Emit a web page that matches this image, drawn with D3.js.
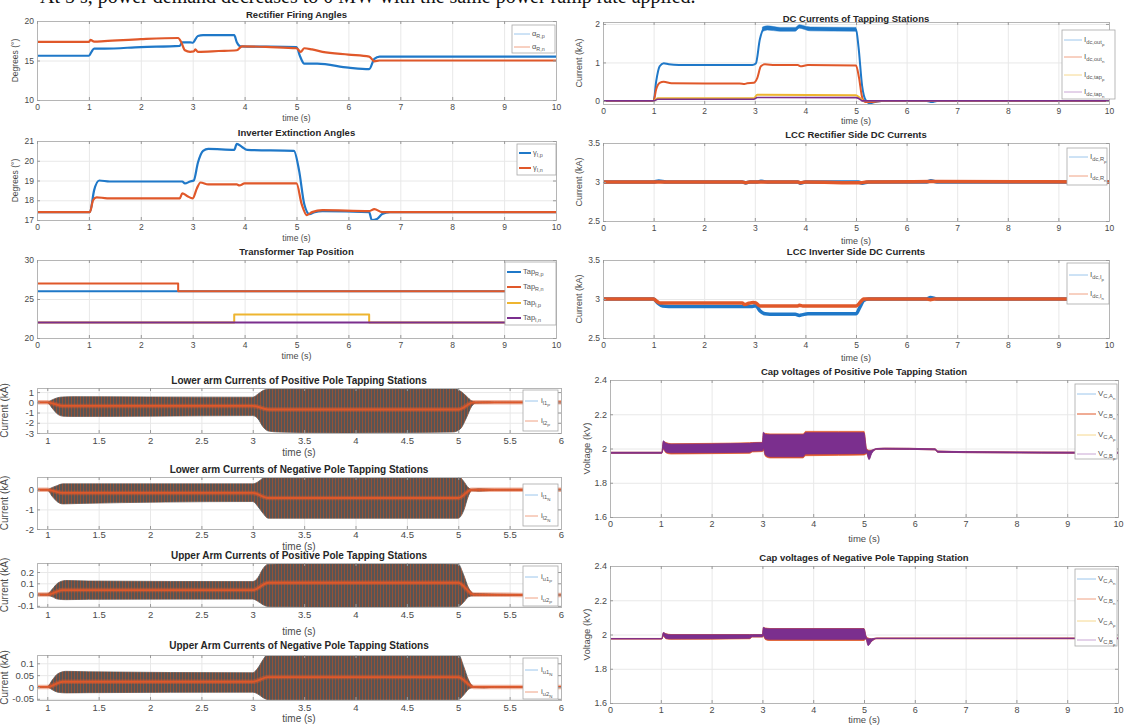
<!DOCTYPE html>
<html>
<head>
<meta charset="utf-8">
<script src="https://d3js.org/d3.v7.min.js"></script>
<style>
  body { margin: 0; background: #fff; }
  svg { font-family: "Liberation Sans", Arial, sans-serif; }
</style>
</head>
<body>
<svg id="fig" width="1124" height="726"></svg>
<script>
// ---- tick values ----
const xt10 = [0,1,2,3,4,5,6,7,8,9,10];
const xtArm = [1,1.5,2,2.5,3,3.5,4,4.5,5,5.5,6];
const ytAlpha = [10,15,20], ytGamma = [17,18,19,20,21], ytTap = [20,25,30];
const ytIlPos = [-3,-2,-1,0,1], ytIlNeg = [-2,-1,0];
const ytIuPos = [-0.1,0,0.1,0.2], ytIuNeg = [-0.05,0,0.05,0.1];
const ytIdc = [0,1,2], ytLcc = [2.5,3,3.5], ytVc = [1.6,1.8,2,2.2,2.4];

// ---- rectifier firing angles [t, deg] ----
const alphaRp = [[0,15.6],[1.0,15.6],[1.05,16.1],[1.1,16.5],[1.3,16.5],[2.0,16.7],[2.75,16.85],[2.8,17.3],[2.95,17.3],[3.0,17.25],[3.1,18.1],[3.2,18.2],[3.8,18.2],[3.85,17.3],[3.92,16.8],[5.0,16.7],[5.07,15.5],[5.15,14.6],[5.4,14.6],[6.0,14.1],[6.4,13.9],[6.5,15.2],[6.6,15.5],[10,15.5]];
const alphaRn = [[0,17.35],[1.0,17.35],[1.03,17.6],[1.1,17.4],[1.3,17.45],[2.0,17.7],[2.72,17.85],[2.78,17.3],[2.85,16.3],[2.95,16.1],[3.02,16.15],[3.05,16.4],[3.1,16.1],[3.5,16.2],[3.85,16.3],[3.95,16.8],[4.5,16.7],[5.0,16.55],[5.08,16.1],[5.15,16.55],[5.3,16.4],[5.5,16.1],[6.0,15.75],[6.4,15.5],[6.5,14.9],[6.6,15.0],[10,15.0]];

// ---- inverter extinction angles ----
const gammaIp = [[0,17.4],[1.02,17.4],[1.1,18.5],[1.2,19.0],[1.4,18.95],[2.8,18.95],[2.85,18.85],[2.95,18.95],[3.02,19.0],[3.1,19.9],[3.2,20.5],[3.3,20.6],[3.8,20.55],[3.85,20.85],[3.95,20.7],[4.05,20.55],[4.95,20.5],[5.05,19.5],[5.15,17.8],[5.25,17.3],[5.35,17.4],[5.5,17.45],[6.4,17.4],[6.45,17.0],[6.55,17.05],[6.65,17.3],[6.8,17.4],[10,17.4]];
const gammaIn = [[0,17.4],[1.02,17.4],[1.08,18.0],[1.15,18.15],[1.35,18.1],[2.75,18.1],[2.8,18.35],[2.9,18.2],[3.0,18.1],[3.08,18.6],[3.15,18.9],[3.3,18.8],[3.85,18.8],[3.9,18.75],[4.0,18.85],[5.0,18.85],[5.1,17.8],[5.2,17.25],[5.3,17.4],[5.5,17.5],[6.4,17.45],[6.5,17.55],[6.65,17.4],[10,17.4]];

// ---- transformer taps ----
const tapRp = [[0,26],[10,26]];
const tapRn = [[0,27],[2.72,27],[2.72,26],[10,26]];
const tapIp = [[0,22],[3.8,22],[3.8,23],[6.4,23],[6.4,22],[10,22]];
const tapIn = [[0,22],[10,22]];

// ---- arm currents: envelope [t, min, max] and mean [t, v] ----
const ilPosBand = [[0.9,-0.03,0.03],[1.0,-0.03,0.03],[1.05,-0.6,0.25],[1.1,-1.15,0.45],[1.15,-1.35,0.52],[1.25,-1.38,0.55],[2.0,-1.35,0.52],[3.0,-1.3,0.5],[3.05,-1.6,0.8],[3.1,-2.4,1.15],[3.15,-2.8,1.3],[3.25,-2.9,1.4],[3.9,-3.0,1.4],[4.5,-2.95,1.4],[4.95,-2.9,1.4],[5.02,-2.6,1.1],[5.08,-1.5,0.6],[5.13,-0.4,0.15],[5.17,-0.08,0.04],[5.3,-0.06,0.06],[5.35,-0.03,0.03],[6.0,-0.03,0.03]];
const ilPosMid = [[0.9,0],[1.0,0],[1.15,-0.35],[3.0,-0.35],[3.15,-0.7],[5.0,-0.7],[5.15,0],[6.0,0]];
const ilNegBand = [[0.9,-0.02,0.02],[1.0,-0.02,0.02],[1.05,-0.35,0.12],[1.1,-0.62,0.22],[1.15,-0.72,0.3],[1.3,-0.7,0.3],[3.0,-0.6,0.3],[3.05,-0.85,0.4],[3.1,-1.2,0.6],[3.15,-1.45,0.7],[5.0,-1.45,0.7],[5.05,-1.1,0.45],[5.1,-0.3,0.1],[5.13,-0.05,0.02],[5.2,-0.07,0.05],[5.3,-0.04,0.03],[5.35,-0.02,0.02],[6.0,-0.02,0.02]];
const ilNegMid = [[0.9,0],[1.0,0],[1.15,-0.16],[3.0,-0.16],[3.15,-0.42],[5.0,-0.42],[5.13,0],[6.0,0]];
const iuPosBand = [[0.9,-0.006,0.006],[1.0,-0.006,0.006],[1.05,-0.02,0.05],[1.1,-0.04,0.1],[1.18,-0.045,0.125],[1.4,-0.042,0.12],[3.0,-0.04,0.115],[3.05,-0.06,0.15],[3.1,-0.09,0.23],[3.15,-0.105,0.27],[3.9,-0.11,0.28],[5.0,-0.105,0.27],[5.05,-0.07,0.18],[5.1,-0.02,0.06],[5.15,-0.01,0.01],[5.6,-0.008,0.002],[6.0,-0.008,0.002]];
const iuPosMid = [[0.9,0],[1.0,0],[1.15,0.04],[3.0,0.04],[3.15,0.105],[5.0,0.105],[5.15,0],[5.6,-0.003],[6.0,-0.003]];
const iuNegBand = [[0.9,-0.001,0.001],[1.0,-0.001,0.001],[1.05,-0.012,0.03],[1.1,-0.022,0.055],[1.18,-0.025,0.066],[1.4,-0.024,0.064],[3.0,-0.022,0.06],[3.05,-0.03,0.08],[3.1,-0.045,0.115],[3.15,-0.053,0.14],[5.0,-0.053,0.14],[5.05,-0.035,0.09],[5.1,-0.01,0.03],[5.15,-0.002,0.002],[5.25,-0.004,0.001],[5.35,-0.001,0.001],[6.0,-0.001,0.001]];
const iuNegMid = [[0.9,0],[1.0,0],[1.15,0.022],[3.0,0.022],[3.15,0.042],[5.0,0.042],[5.15,0],[6.0,0]];

// ---- DC currents of tapping stations [t, kA] ----
const idcOutP = [[0,0],[1.0,0],[1.05,0.5],[1.12,0.9],[1.2,0.98],[1.3,0.95],[1.5,0.93],[2.95,0.93],[3.02,0.97],[3.1,1.6],[3.18,1.88],[3.25,1.9],[3.5,1.86],[3.8,1.86],[3.88,1.94],[3.95,1.92],[4.1,1.87],[5.0,1.86],[5.05,1.4],[5.12,0.4],[5.2,0.0],[5.27,-0.06],[5.4,-0.02],[5.5,0],[6.4,0],[6.5,-0.03],[6.6,0],[10,0]];
const idcOutPBand = [[3.15,1.8,1.92],[3.25,1.84,1.95],[3.5,1.81,1.91],[3.8,1.81,1.91],[3.88,1.89,1.98],[3.95,1.87,1.96],[4.1,1.82,1.92],[5.0,1.81,1.91]];
const idcOutN = [[0,0],[1.0,0],[1.05,0.3],[1.12,0.47],[1.2,0.5],[1.35,0.46],[2.7,0.45],[2.8,0.44],[2.85,0.46],[2.98,0.47],[3.05,0.6],[3.12,0.9],[3.2,0.95],[3.4,0.93],[3.85,0.93],[3.9,0.9],[4.05,0.93],[5.0,0.92],[5.06,0.6],[5.12,0.1],[5.18,-0.03],[5.3,-0.03],[5.5,0],[10,0]];
const idcTapP = [[0,0],[1.0,0],[1.08,0.07],[2.98,0.07],[3.05,0.16],[3.15,0.16],[5.0,0.15],[5.1,0.05],[5.15,0],[10,0]];
const idcTapN = [[0,0],[1.0,0],[1.08,0.045],[2.98,0.045],[3.05,0.09],[5.0,0.085],[5.1,0.02],[5.12,0],[10,0]];

// ---- LCC rectifier / inverter DC currents ----
const idcRp = [[0,3.0],[1.0,3.0],[1.1,3.012],[1.25,3.0],[2.75,3.0],[2.82,2.988],[2.9,3.0],[3.05,3.0],[3.12,3.01],[3.25,3.0],[3.85,3.0],[3.9,2.985],[4.0,3.0],[5.05,3.0],[5.12,2.985],[5.25,3.0],[6.4,3.0],[6.48,3.015],[6.6,3.0],[10,3.0]];
const idcRn = [[0,3.0],[2.75,3.0],[2.82,2.99],[2.9,3.0],[3.85,3.0],[3.9,2.99],[4.0,3.0],[5.1,2.99],[5.2,3.0],[6.5,3.005],[10,3.0]];
const idcIp = [[0,3.0],[1.0,3.0],[1.08,2.95],[1.18,2.91],[1.3,2.905],[2.95,2.905],[3.02,2.915],[3.1,2.85],[3.2,2.81],[3.3,2.805],[3.8,2.805],[3.88,2.79],[3.95,2.8],[4.05,2.81],[5.0,2.81],[5.08,2.9],[5.15,2.98],[5.25,3.0],[6.4,3.0],[6.47,3.02],[6.6,3.0],[10,3.0]];
const idcIn = [[0,3.0],[1.0,3.0],[1.06,2.97],[1.12,2.95],[2.75,2.95],[2.8,2.93],[2.88,2.945],[2.97,2.955],[3.02,2.95],[3.1,2.91],[3.85,2.91],[3.88,2.92],[3.95,2.91],[5.0,2.91],[5.1,2.97],[5.15,3.0],[6.4,3.0],[6.47,2.99],[6.55,3.0],[10,3.0]];

// ---- capacitor voltages: envelope [t, min, max] (kV) ----
const vcPosOrange = [[0,1.972,1.978],[1.02,1.972,1.978],[1.05,1.995,2.04],[1.1,1.975,2.035],[1.2,1.968,2.028],[2.0,1.97,2.03],[2.75,1.972,2.034],[2.8,1.98,2.035],[3.0,1.982,2.036],[3.02,1.99,2.09],[3.06,1.955,2.088],[3.15,1.945,2.085],[3.8,1.945,2.085],[3.85,1.958,2.1],[4.5,1.96,2.1],[5.0,1.962,2.1],[5.05,1.97,2.0],[5.1,1.94,1.99],[5.15,1.975,1.99],[5.25,1.995,2.0],[5.4,1.996,2.002],[6.4,1.992,1.998],[6.45,1.978,1.985],[7.0,1.976,1.982],[10,1.972,1.978]];
const vcPosPurple = [[0,1.972,1.978],[1.02,1.972,1.978],[1.05,2.0,2.045],[1.1,1.98,2.03],[1.2,1.975,2.025],[2.75,1.978,2.03],[2.8,1.985,2.032],[3.0,1.987,2.033],[3.02,2.0,2.095],[3.06,1.962,2.082],[3.15,1.952,2.08],[3.8,1.952,2.08],[3.85,1.968,2.092],[5.0,1.97,2.092],[5.05,1.975,1.995],[5.1,1.935,1.985],[5.15,1.97,1.99],[5.25,1.995,2.0],[5.4,1.996,2.002],[6.4,1.992,1.998],[6.45,1.978,1.985],[7.0,1.976,1.982],[10,1.972,1.978]];
const vcNegOrange = [[0,1.973,1.977],[1.02,1.973,1.977],[1.05,1.99,2.01],[1.1,1.975,2.005],[1.2,1.972,2.0],[2.75,1.975,2.0],[2.8,1.985,2.0],[3.0,1.985,2.0],[3.02,1.99,2.04],[3.06,1.97,2.038],[3.15,1.965,2.035],[5.0,1.965,2.035],[5.04,1.975,1.99],[5.08,1.94,1.98],[5.15,1.96,1.975],[5.25,1.975,1.98],[10,1.975,1.98]];
const vcNegPurple = [[0,1.974,1.976],[1.02,1.974,1.976],[1.05,1.995,2.012],[1.1,1.978,2.003],[1.2,1.975,1.998],[2.75,1.978,1.998],[2.8,1.987,1.999],[3.0,1.987,1.999],[3.02,1.995,2.042],[3.06,1.975,2.035],[3.15,1.972,2.033],[5.0,1.972,2.033],[5.04,1.975,1.99],[5.08,1.935,1.975],[5.15,1.96,1.975],[5.25,1.976,1.979],[10,1.976,1.979]];

// ------------------------------------------------------------
var svg = d3.select("#fig");
var C = {blue:"#1f78c8", orange:"#e0582a", yellow:"#eeb530", purple:"#7b2f8e"};
var L = {blue:"#9cc6ec", orange:"#f0a284", yellow:"#f6d88e", purple:"#c9a6d4"};

svg.append("rect").attr("width",1124).attr("height",726).attr("fill","#fff");

var defs = svg.append("defs");
var pat = defs.append("pattern").attr("id","armPat").attr("patternUnits","userSpaceOnUse")
  .attr("width",3).attr("height",10);
pat.append("rect").attr("width",3).attr("height",10).attr("fill","#575454");
pat.append("rect").attr("x",2).attr("width",1).attr("height",10).attr("fill","#935238");

// page text above the figure, cut by the top edge as in the source
svg.append("text").attr("x",40).attr("y",3)
  .style("font-family","'Liberation Serif', serif").style("font-size","20px").attr("fill","#111")
  .text("At 5 s, power demand decreases to 0 MW with the same power ramp rate applied.");

var clipN = 0;
function panel(p) {
  var x = d3.scaleLinear().domain(p.xd).range([p.x0, p.x1]);
  var y = d3.scaleLinear().domain(p.yd).range([p.y1, p.y0]);
  var w = p.x1 - p.x0, h = p.y1 - p.y0;
  var g = svg.append("g");

  // grid
  g.append("g").attr("transform","translate(0,"+p.y1+")")
    .call(d3.axisBottom(x).tickValues(p.xt).tickSize(-h).tickFormat(""))
    .call(function(a){ a.select(".domain").remove(); a.selectAll("line").attr("stroke","#e8e8e8"); });
  g.append("g").attr("transform","translate("+p.x0+",0)")
    .call(d3.axisLeft(y).tickValues(p.yt).tickSize(-w).tickFormat(""))
    .call(function(a){ a.select(".domain").remove(); a.selectAll("line").attr("stroke","#e8e8e8"); });

  // data
  var id = "clip" + (clipN++);
  defs.append("clipPath").attr("id",id).append("rect")
    .attr("x",p.x0).attr("y",p.y0).attr("width",w).attr("height",h);
  var plot = g.append("g").attr("clip-path","url(#"+id+")");
  p.series.forEach(function(s){
    if (s.band) {
      plot.append("path").datum(s.data)
        .attr("d", d3.area().x(function(d){return x(d[0]);}).y0(function(d){return y(d[1]);})
          .y1(function(d){return y(d[2]);}).curve(d3.curveMonotoneX))
        .attr("fill", s.fill).attr("stroke", s.fill).attr("stroke-width", s.sw || 0.8);
    } else {
      plot.append("path").datum(s.data)
        .attr("d", d3.line().x(function(d){return x(d[0]);}).y(function(d){return y(d[1]);})
          .curve(s.step ? d3.curveLinear : d3.curveMonotoneX))
        .attr("fill","none").attr("stroke", s.c).attr("stroke-width", s.w || 1.5)
        .attr("stroke-opacity", s.op || 1).attr("stroke-linejoin","round");
    }
  });

  // axes with inward ticks
  var fs = p.fs || 8.5;
  function style(a){
    a.attr("font-family", null).attr("font-size", null);
    a.select(".domain").attr("stroke","#b5b5b5");
    a.selectAll(".tick line").attr("stroke","#9a9a9a");
    a.selectAll("text").attr("fill","#4a4a4a").style("font-size", fs+"px");
  }
  g.append("g").attr("transform","translate(0,"+p.y1+")")
    .call(d3.axisBottom(x).tickValues(p.xt).tickSize(-3).tickPadding(p.tpx || 4).tickFormat(function(d){return d;}))
    .call(style);
  g.append("g").attr("transform","translate("+p.x0+",0)")
    .call(d3.axisLeft(y).tickValues(p.yt).tickSize(-3).tickPadding(3).tickFormat(function(d){return d;}))
    .call(style);
  g.append("g").attr("transform","translate(0,"+p.y0+")")
    .call(d3.axisTop(x).tickValues(p.xt).tickSize(-3).tickFormat("")).call(style);
  g.append("g").attr("transform","translate("+p.x1+",0)")
    .call(d3.axisRight(y).tickValues(p.yt).tickSize(-3).tickFormat("")).call(style);

  // labels
  g.append("text").attr("x",(p.x0+p.x1)/2).attr("y",p.ty).attr("text-anchor","middle")
    .style("font-size",(p.tfs || 9.5)+"px").style("font-weight","bold").attr("fill","#262626").text(p.title);
  g.append("text").attr("x",(p.x0+p.x1)/2).attr("y",p.xly).attr("text-anchor","middle")
    .style("font-size",(p.lfs || 9)+"px").attr("fill","#4a4a4a").text("time (s)");
  if (p.ylab) {
    g.append("text").attr("transform","translate("+p.ylx+","+((p.y0+p.y1)/2)+") rotate(-90)")
      .attr("text-anchor","middle").style("font-size",(p.lfs || 9)+"px").attr("fill","#4a4a4a").text(p.ylab);
  }
  if (p.leg) legend(p.leg);
}

function legend(lg) {
  var g = svg.append("g");
  var fs = lg.fs || 7.5;
  g.append("rect").attr("x",lg.x).attr("y",lg.y).attr("width",lg.w).attr("height",lg.h)
    .attr("fill","#fff").attr("stroke","#a8a8a8").attr("stroke-width",0.8);
  lg.items.forEach(function(it){
    g.append("line").attr("x1",lg.lx0).attr("x2",lg.lx1).attr("y1",it.y).attr("y2",it.y)
      .attr("stroke",it.c).attr("stroke-width",lg.lw || 1);
    var t = g.append("text").attr("x",lg.tx).attr("y",it.y+1.5).style("font-size",fs+"px").attr("fill","#555");
    t.append("tspan").text(it.m);
    if (it.s) t.append("tspan").attr("dy",2).style("font-size",(fs*0.72)+"px").text(it.s);
    if (it.ss) t.append("tspan").attr("dy",2).style("font-size",(fs*0.55)+"px").text(it.ss);
  });
}

// ---------------- left column ----------------
panel({x0:37, x1:556, y0:21, y1:100, xd:[0,10], yd:[10,20], xt:xt10, yt:ytAlpha,
  title:"Rectifier Firing Angles", ty:18, xly:121, ylab:"Degrees (°)", ylx:18, lfs:8.5,
  series:[{data:alphaRp, c:C.blue, w:2.2},{data:alphaRn, c:C.orange, w:2.2}],
  leg:{x:512, y:25, w:43, h:28, lx0:514, lx1:530, tx:532, items:[
    {y:34, c:L.blue, m:"α", s:"R,p"},{y:47, c:L.orange, m:"α", s:"R,n"}]}});

panel({x0:37, x1:556, y0:141, y1:220, xd:[0,10], yd:[17,21], xt:xt10, yt:ytGamma,
  title:"Inverter Extinction Angles", ty:136, xly:241, ylab:"Degrees (°)", ylx:18, lfs:8.5,
  series:[{data:gammaIp, c:C.blue, w:2.2},{data:gammaIn, c:C.orange, w:2.2}],
  leg:{x:517, y:144, w:39, h:31, lx0:519, lx1:531, tx:533, lw:2, items:[
    {y:153, c:C.blue, m:"γ", s:"I,p"},{y:168, c:C.orange, m:"γ", s:"I,n"}]}});

panel({x0:37, x1:556, y0:260, y1:338, xd:[0,10], yd:[20,30], xt:xt10, yt:ytTap,
  title:"Transformer Tap Position", ty:255, xly:359,
  series:[{data:tapRp, c:C.blue, w:2, step:true},{data:tapRn, c:C.orange, w:2, step:true},
          {data:tapIp, c:C.yellow, w:2, step:true},{data:tapIn, c:C.purple, w:2, step:true}],
  leg:{x:505, y:262, w:51, h:63, lx0:507, lx1:521, tx:523, lw:2, items:[
    {y:272, c:C.blue, m:"Tap", s:"R,p"},{y:287, c:C.orange, m:"Tap", s:"R,n"},
    {y:303, c:C.yellow, m:"Tap", s:"I,p"},{y:318, c:C.purple, m:"Tap", s:"I,n"}]}});

var armBase = {x0:37, x1:561, xd:[0.9,6], xt:xtArm, fs:9.5, tfs:10, lfs:10, ylab:"Current (kA)", ylx:8};
function arm(extra) { panel(Object.assign({}, armBase, extra)); }
function armSeries(band, mid) {
  return [{band:true, data:band, fill:"url(#armPat)"},
          {data:mid, c:C.orange, w:4.5, op:0.45},
          {data:mid, c:C.orange, w:1.8, op:0.95}];
}

arm({y0:388, y1:433, yd:[-3,1.4], yt:ytIlPos, ty:384, xly:456,
  title:"Lower arm Currents of Positive Pole Tapping Stations",
  series:armSeries(ilPosBand, ilPosMid),
  leg:{x:523, y:390, w:35, h:41, lx0:525, lx1:538, tx:541, fs:8, items:[
    {y:401, c:L.blue, m:"i", s:"l1", ss:"P"},{y:421, c:L.orange, m:"i", s:"l2", ss:"P"}]}});

arm({y0:477, y1:529, yd:[-2,0.65], yt:ytIlNeg, ty:473, xly:549.5, tpx:2,
  title:"Lower arm Currents of Negative Pole Tapping Stations",
  series:armSeries(ilNegBand, ilNegMid),
  leg:{x:523, y:484, w:35, h:42, lx0:525, lx1:538, tx:541, fs:8, items:[
    {y:495, c:L.blue, m:"i", s:"l1", ss:"N"},{y:516, c:L.orange, m:"i", s:"l2", ss:"N"}]}});

arm({y0:563, y1:607, yd:[-0.11,0.28], yt:ytIuPos, ty:559, xly:635,
  title:"Upper Arm Currents of Positive Pole Tapping Stations",
  series:armSeries(iuPosBand, iuPosMid),
  leg:{x:523, y:566, w:35, h:40, lx0:525, lx1:538, tx:541, fs:8, items:[
    {y:577, c:L.blue, m:"i", s:"u1", ss:"P"},{y:598, c:L.orange, m:"i", s:"u2", ss:"P"}]}});

arm({y0:655, y1:700, yd:[-0.055,0.135], yt:ytIuNeg, ty:649, xly:722,
  title:"Upper Arm Currents of Negative Pole Tapping Stations",
  series:armSeries(iuNegBand, iuNegMid),
  leg:{x:523, y:658, w:35, h:41, lx0:525, lx1:538, tx:541, fs:8, items:[
    {y:670, c:L.blue, m:"i", s:"u1", ss:"N"},{y:692, c:L.orange, m:"i", s:"u2", ss:"N"}]}});

// ---------------- right column ----------------
panel({x0:603, x1:1109, y0:22, y1:104, xd:[0,10], yd:[-0.08,2.05], xt:xt10, yt:ytIdc,
  title:"DC Currents of Tapping Stations", ty:22, xly:124, ylab:"Current (kA)", ylx:582,
  series:[{data:idcOutP, c:C.blue, w:2},{band:true, data:idcOutPBand, fill:C.blue, sw:0.5},
          {data:idcOutN, c:C.orange, w:2},{data:idcTapP, c:C.yellow, w:2},{data:idcTapN, c:C.purple, w:1.6}],
  leg:{x:1062, y:30, w:53, h:69, lx0:1064, lx1:1082, tx:1084, fs:8, items:[
    {y:40, c:L.blue, m:"I", s:"dc,out", ss:"p"},{y:57, c:L.orange, m:"I", s:"dc,out", ss:"n"},
    {y:75, c:L.yellow, m:"I", s:"dc,tap", ss:"p"},{y:92, c:L.purple, m:"I", s:"dc,tap", ss:"n"}]}});

panel({x0:603, x1:1109, y0:143, y1:221, xd:[0,10], yd:[2.5,3.5], xt:xt10, yt:ytLcc,
  title:"LCC Rectifier Side DC Currents", ty:138, xly:244, ylab:"Current (kA)", ylx:582,
  series:[{data:idcRp, c:C.blue, w:3.5},{data:idcRn, c:C.orange, w:3.5}],
  leg:{x:1067, y:148, w:40, h:37, lx0:1069, lx1:1088, tx:1090, fs:8, items:[
    {y:157, c:L.blue, m:"I", s:"dc,R", ss:"p"},{y:176, c:L.orange, m:"I", s:"dc,R", ss:"n"}]}});

panel({x0:603, x1:1109, y0:260, y1:338, xd:[0,10], yd:[2.5,3.5], xt:xt10, yt:ytLcc,
  title:"LCC Inverter Side DC Currents", ty:255, xly:361, ylab:"Current (kA)", ylx:582,
  series:[{data:idcIp, c:C.blue, w:3.5},{data:idcIn, c:C.orange, w:3.5}],
  leg:{x:1067, y:263, w:42, h:41, lx0:1069, lx1:1088, tx:1090, fs:8, items:[
    {y:275, c:L.blue, m:"I", s:"dc,I", ss:"p"},{y:294, c:L.orange, m:"I", s:"dc,I", ss:"n"}]}});

panel({x0:610, x1:1118, y0:380, y1:517, xd:[0,10], yd:[1.6,2.4], xt:xt10, yt:ytVc, fs:9,
  title:"Cap voltages of Positive Pole Tapping Station", ty:375, xly:542, ylab:"Voltage (kV)", ylx:590, lfs:9.5,
  series:[{band:true, data:vcPosOrange, fill:C.orange},{band:true, data:vcPosPurple, fill:C.purple}],
  leg:{x:1075, y:384, w:42, h:75, lx0:1077, lx1:1096, tx:1098, fs:8, items:[
    {y:394, c:L.blue, m:"V", s:"C,A", ss:"n"},{y:414, c:C.orange, m:"V", s:"C,B", ss:"n"},
    {y:435, c:L.yellow, m:"V", s:"C,A", ss:"p"},{y:454, c:L.purple, m:"V", s:"C,B", ss:"p"}]}});

panel({x0:610, x1:1118, y0:566, y1:703, xd:[0,10], yd:[1.6,2.4], xt:xt10, yt:ytVc, fs:9,
  title:"Cap voltages of Negative Pole Tapping Station", ty:561, xly:723, ylab:"Voltage (kV)", ylx:590, lfs:9.5,
  series:[{band:true, data:vcNegOrange, fill:C.orange},{band:true, data:vcNegPurple, fill:C.purple}],
  leg:{x:1075, y:569, w:42, h:77, lx0:1077, lx1:1096, tx:1098, fs:8, items:[
    {y:579, c:L.blue, m:"V", s:"C,A", ss:"n"},{y:599, c:L.orange, m:"V", s:"C,B", ss:"n"},
    {y:621, c:L.yellow, m:"V", s:"C,A", ss:"p"},{y:640, c:L.purple, m:"V", s:"C,B", ss:"p"}]}});
</script>
</body>
</html>
